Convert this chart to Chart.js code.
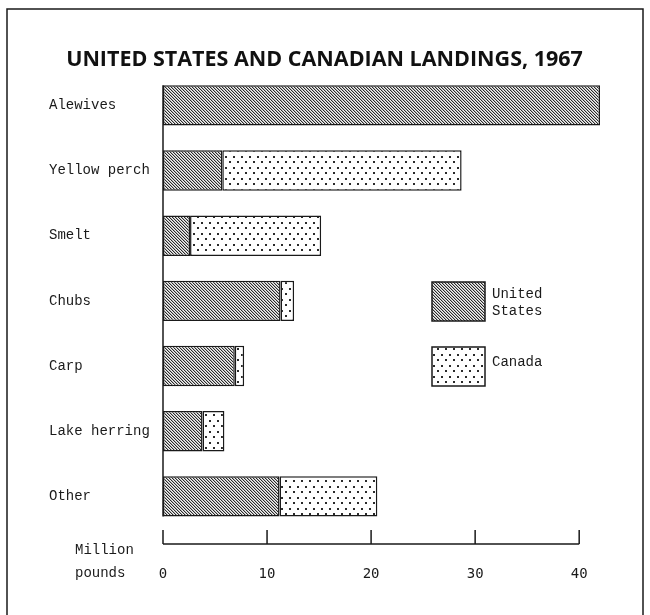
<!DOCTYPE html>
<html>
<head>
<meta charset="utf-8">
<script src="https://cdn.jsdelivr.net/npm/chart.js@4"></script>
<style>
  html, body { margin: 0; padding: 0; background: #fff; }
  #wrap { width: 650px; height: 615px; }
</style>
</head>
<body>
<div id="wrap"><canvas id="landingsChart" width="650" height="615"></canvas></div>
<script>
const categories = ['Alewives', 'Yellow perch', 'Smelt', 'Chubs', 'Carp', 'Lake herring', 'Other'];
const unitedStates = [42.0, 5.7, 2.6, 11.3, 6.9, 3.8, 11.2];
const canada = [null, 23.0, 12.6, 1.3, 0.9, 2.1, 9.4];
const tickValues = [0, 10, 20, 30, 40];

const typeFont = { family: '"Liberation Mono", monospace', size: 14 };
const ink = '#1a1a1a';

// diagonal ruling for the US share
function hatchPattern() {
    const c = document.createElement('canvas');
    c.width = 3; c.height = 3;
    const g = c.getContext('2d');
    g.fillStyle = '#f2f2f2';
    g.fillRect(0, 0, 3, 3);
    g.fillStyle = '#2a2a2a';
    for (let i = 0; i < 3; i++) g.fillRect(i, i, 1, 1);
    g.fillStyle = '#b4b4b4';
    for (let i = 0; i < 3; i++) g.fillRect((i + 1) % 3, i, 1, 1);
    return g.createPattern(c, 'repeat');
}

// staggered dots for the Canadian share
function dotPattern() {
    const c = document.createElement('canvas');
    c.width = 8; c.height = 11;
    const g = c.getContext('2d');
    g.fillStyle = '#ffffff';
    g.fillRect(0, 0, 8, 11);
    g.fillStyle = '#2a2a2a';
    g.fillRect(1, 2, 2, 2);
    g.fillRect(5, 7, 2, 2);
    return g.createPattern(c, 'repeat');
}

const usFill = hatchPattern();
const caFill = dotPattern();

const printedAxes = {
    id: 'printedAxes',
    afterDraw(chart) {
        const { ctx, chartArea, scales: { x } } = chart;
        ctx.save();
        ctx.strokeStyle = ink;
        ctx.fillStyle = ink;

        // page frame
        ctx.lineWidth = 1.5;
        ctx.beginPath();
        ctx.moveTo(7, 615);
        ctx.lineTo(7, 9);
        ctx.lineTo(643, 9);
        ctx.lineTo(643, 615);
        ctx.stroke();

        // vertical rule from the first bar to the last
        const bars = chart.getDatasetMeta(0).data;
        const first = bars[0];
        const last = bars[bars.length - 1];
        const x0 = x.getPixelForValue(0);
        ctx.beginPath();
        ctx.moveTo(x0, first.y - first.height / 2);
        ctx.lineTo(x0, last.y + last.height / 2);
        ctx.stroke();

        // scale line with ticks pointing up
        const axisY = chartArea.bottom + 15;
        ctx.beginPath();
        ctx.moveTo(x0, axisY);
        ctx.lineTo(x.getPixelForValue(tickValues[tickValues.length - 1]), axisY);
        tickValues.forEach(v => {
            const px = x.getPixelForValue(v);
            ctx.moveTo(px, axisY);
            ctx.lineTo(px, axisY - 14);
        });
        ctx.stroke();

        ctx.font = '14px "Liberation Mono", monospace';
        ctx.textBaseline = 'middle';
        ctx.textAlign = 'left';
        ctx.fillText('Million', 75, axisY + 6);
        ctx.fillText('pounds', 75, axisY + 29);

        // key
        const keys = [
            { fill: chart.data.datasets[0].backgroundColor, top: 282, lines: ['United', 'States'] },
            { fill: chart.data.datasets[1].backgroundColor, top: 347, lines: ['Canada'] }
        ];
        keys.forEach(k => {
            ctx.fillStyle = k.fill;
            ctx.fillRect(432, k.top, 53, 39);
            ctx.lineWidth = 1.5;
            ctx.strokeRect(432, k.top, 53, 39);
            ctx.fillStyle = ink;
            if (k.lines.length === 2) {
                ctx.fillText(k.lines[0], 492, k.top + 12);
                ctx.fillText(k.lines[1], 492, k.top + 29);
            } else {
                ctx.fillText(k.lines[0], 492, k.top + 15);
            }
        });
        ctx.restore();
    }
};

new Chart(document.getElementById('landingsChart'), {
    type: 'bar',
    data: {
        labels: categories,
        datasets: [{
            label: 'United States',
            data: unitedStates,
            backgroundColor: usFill,
            borderColor: ink,
            borderWidth: 1.5,
            borderSkipped: false
        }, {
            label: 'Canada',
            data: canada,
            backgroundColor: caFill,
            borderColor: ink,
            borderWidth: 1.5,
            borderSkipped: false
        }]
    },
    options: {
        indexAxis: 'y',
        responsive: false,
        animation: false,
        barPercentage: 1,
        categoryPercentage: 0.62,
        layout: {
            padding: { left: 49, right: 50, top: 38, bottom: 26 }
        },
        scales: {
            x: {
                stacked: true,
                min: 0,
                max: 42,
                ticks: {
                    stepSize: 10,
                    includeBounds: false,
                    maxRotation: 0,
                    padding: 29,
                    font: { family: '"DejaVu Sans Mono", monospace', size: 14 },
                    color: ink
                },
                grid: { display: false },
                border: { display: false },
                afterFit: s => { s.height = 60; }
            },
            y: {
                stacked: true,
                ticks: {
                    crossAlign: 'far',
                    padding: 0,
                    font: typeFont,
                    color: ink
                },
                grid: { display: false },
                border: { display: false },
                afterFit: s => { s.width = 114; }
            }
        },
        plugins: {
            legend: { display: false },
            tooltip: { enabled: false },
            title: {
                display: true,
                text: 'UNITED STATES AND CANADIAN LANDINGS, 1967',
                font: { family: '"Open Sans", sans-serif', weight: 'bold', size: 21.5 },
                color: '#111',
                padding: { top: 9, bottom: 0 }
            }
        }
    },
    plugins: [printedAxes]
});
</script>
</body>
</html>
